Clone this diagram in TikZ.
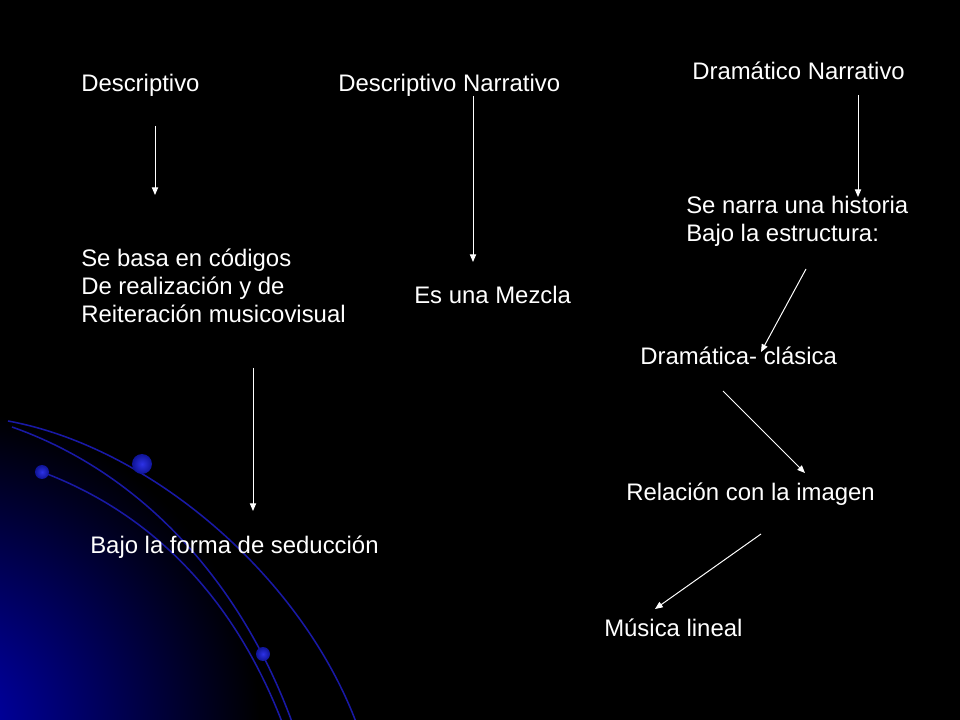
\documentclass[tikz,border=0pt]{standalone}
\usepackage{fontspec}
\setmainfont{Liberation Sans}
\usetikzlibrary{arrows.meta}
\definecolor{cornerblue}{RGB}{0,0,185}
\definecolor{swirlblue}{RGB}{25,25,165}
\definecolor{beadlight}{RGB}{45,50,230}
\definecolor{beaddark}{RGB}{15,20,150}

\begin{document}
\begin{tikzpicture}[x=0.025cm,y=-0.025cm,
    every node/.style={anchor=base west,inner sep=0pt,text=white,align=left,
        font=\fontsize{17}{20.1}\selectfont},
    arrow/.style={draw=white,line width=0.7pt,-{Triangle[length=5.5pt,width=4.5pt]}},
    swirl/.style={draw=swirlblue,line width=1.1pt},
    bead/.style={inner color=beadlight,outer color=beaddark}]
    \useasboundingbox (0,0) rectangle (960,720);
    \fill[black] (0,0) rectangle (960,720);
    \begin{scope}
        \clip (0,0) rectangle (960,720);
        \shade[inner color=cornerblue,outer color=black] (-60,730) circle (320);

        \draw[swirl] (8,421) .. controls (150,447) and (300,575) .. (356,722);
        \draw[swirl] (12,427) .. controls (140,472) and (240,580) .. (292,722);
        \draw[swirl] (42,472) .. controls (130,505) and (225,575) .. (282,722);
        \shade[bead] (42,472) circle (7);
        \shade[bead] (142,464) circle (10);
        \shade[bead] (263,654) circle (7);
    \end{scope}

    \node (desc) at (81,92) {Descriptivo};
    \node (descnarr) at (338,92) {Descriptivo Narrativo};
    \node (dramnarr) at (692,80) {Dramático Narrativo};
    \node (codigos) at (81,323) {Se basa en códigos\\De realización y de\\Reiteración musicovisual};
    \node (mezcla) at (414,304) {Es una Mezcla};
    \node (historia) at (686,242) {Se narra una historia\\Bajo la estructura:};
    \node (clasica) at (640,365) {Dramática- clásica};
    \node (imagen) at (626,501) {Relación con la imagen};
    \node (seduccion) at (90,553) {Bajo la forma de seducción};
    \node (lineal) at (604,636) {Música lineal};

    \coordinate (s1) at (155,126);
    \coordinate (e1) at (155,195);
    \coordinate (s2) at (473,96);
    \coordinate (e2) at (473,262);
    \coordinate (s3) at (858,95);
    \coordinate (e3) at (858,197);
    \coordinate (s4) at (253,368);
    \coordinate (e4) at (253,511);
    \coordinate (s5) at (806,269);
    \coordinate (e5) at (761,352);
    \coordinate (s6) at (723,391);
    \coordinate (e6) at (805,473);
    \coordinate (s7) at (761,534);
    \coordinate (e7) at (655,609);

    \draw[arrow] (s1) -- (e1);
    \draw[arrow] (s2) -- (e2);
    \draw[arrow] (s3) -- (e3);
    \draw[arrow] (s4) -- (e4);
    \draw[arrow] (s5) -- (e5);
    \draw[arrow] (s6) -- (e6);
    \draw[arrow] (s7) -- (e7);
\end{tikzpicture}
\end{document}
